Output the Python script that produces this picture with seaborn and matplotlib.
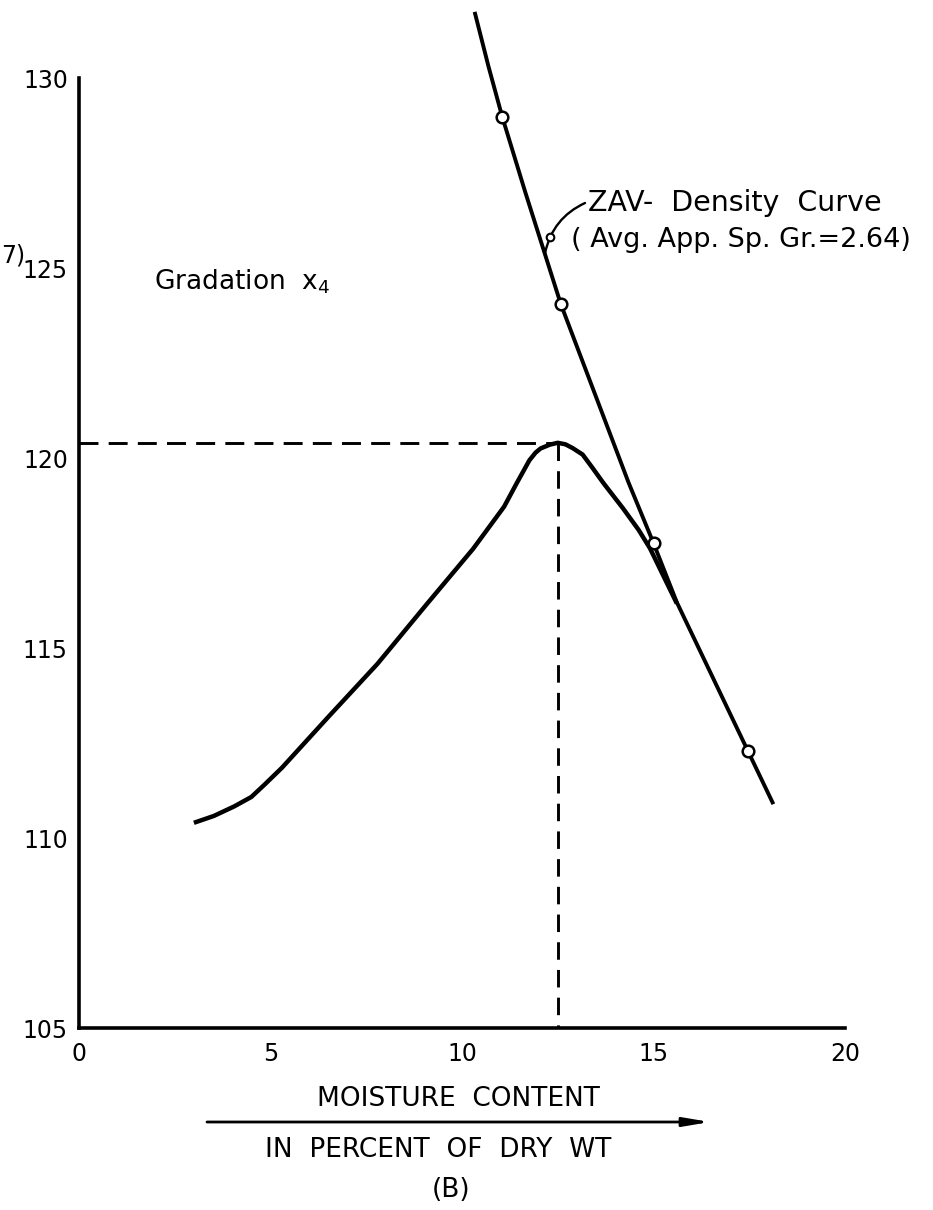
import matplotlib
matplotlib.use("Agg")
import matplotlib.pyplot as plt
from matplotlib.lines import Line2D
import seaborn as sns
import pandas as pd

# Compaction curve, gradation x4: moisture (% of dry wt) vs dry density (pcf)
moisture = [3.00, 3.52, 4.05, 4.50, 4.85, 5.30, 6.54, 7.79, 9.06, 10.29,
            11.10, 11.43, 11.76, 11.92, 12.05, 12.29, 12.50, 12.70, 12.89,
            13.15, 13.40, 13.70, 14.20, 14.61, 14.91, 15.61]
dry_density = [110.40, 110.58, 110.83, 111.08, 111.41, 111.85, 113.22, 114.58,
               116.13, 117.61, 118.72, 119.34, 119.94, 120.14, 120.25, 120.35,
               120.40, 120.36, 120.26, 120.09, 119.75, 119.33, 118.68, 118.11,
               117.62, 116.17]

# Zero-air-voids density curve
zav_moisture = [10.33, 10.69, 11.05, 11.66, 12.58, 14.35, 15.00, 15.61, 17.46, 18.13]
zav_density = [131.74, 130.31, 128.98, 126.97, 124.05, 119.35, 117.76, 116.20,
               112.30, 110.89]

# Computed points on the ZAV curve
zav_pt_moisture = [11.05, 12.58, 15.00, 17.46]
zav_pt_density = [128.98, 124.05, 117.76, 112.30]

# Optimum moisture content and maximum dry density
opt_moisture = 12.5
max_density = 120.4

x_ticks = [0, 5, 10, 15, 20]
y_ticks = [105, 110, 115, 120, 125, 130]

W, H = 933, 1210

sns.set_theme(style="white")
plt.rcParams["font.family"] = ["DejaVu Sans"]
plt.rcParams["mathtext.default"] = "regular"
plt.rcParams["text.color"] = "black"
plt.rcParams["xtick.color"] = "black"
plt.rcParams["ytick.color"] = "black"

fig = plt.figure(figsize=(W / 100, H / 100), dpi=100)
fig.patch.set_facecolor("white")
ax = fig.add_axes([79 / W, 182 / H, 766 / W, 950 / H])
ax.set_facecolor("white")

comp = pd.DataFrame({"moisture": moisture, "density": dry_density})
zav = pd.DataFrame({"moisture": zav_moisture, "density": zav_density})
pts = pd.DataFrame({"moisture": zav_pt_moisture, "density": zav_pt_density})

sns.lineplot(data=comp, x="moisture", y="density", ax=ax, color="black",
             lw=3.2, estimator=None, clip_on=False, solid_capstyle="butt",
             solid_joinstyle="round")
sns.lineplot(data=zav, x="moisture", y="density", ax=ax, color="black",
             lw=2.8, estimator=None, clip_on=False, solid_capstyle="butt",
             solid_joinstyle="round")
sns.scatterplot(data=pts, x="moisture", y="density", ax=ax, s=70,
                facecolor="white", edgecolor="black", linewidth=1.8,
                zorder=5, clip_on=False)

# Optimum moisture / maximum dry density guide lines
ax.plot([0, opt_moisture], [max_density, max_density], color="black",
        lw=2.1, dashes=(6.5, 3.5))
ax.plot([opt_moisture, opt_moisture], [max_density, 105], color="black",
        lw=2.1, dashes=(6.0, 3.5))

ax.set_xlim(0, 20)
ax.set_ylim(105, 130)
ax.set_xticks(x_ticks)
ax.set_yticks(y_ticks)
ax.set_xlabel("")
ax.set_ylabel("")
for side in ("top", "right"):
    ax.spines[side].set_visible(False)
for side in ("left", "bottom"):
    ax.spines[side].set_linewidth(2.6)
    ax.spines[side].set_color("black")
ax.tick_params(axis="both", direction="in", length=15, width=1.9,
               colors="black", labelsize=17)
ax.tick_params(axis="y", pad=8)
ax.tick_params(axis="x", pad=10)


def fy(y):
    return 1 - y / H


fig.text(154 / W, fy(282), "Gradation  $x_4$", fontsize=19,
         ha="left", va="center")
fig.text(1 / W, fy(255), "7)", fontsize=17, ha="left", va="center")

# ZAV curve label with its leader
fig.text(588 / W, fy(203), "ZAV-  Density  Curve", fontsize=20.5,
         ha="left", va="center")
fig.text(571 / W, fy(240), "( Avg. App. Sp. Gr.=2.64)", fontsize=19.5,
         ha="left", va="center")
ax.annotate("", xy=(12.17, 125.4), xytext=(585, H - 203),
            textcoords="figure pixels",
            arrowprops=dict(arrowstyle="-", lw=1.7, color="black",
                            shrinkA=0, shrinkB=0,
                            connectionstyle="arc3,rad=0.25"))
fig.add_artist(Line2D([550.3 / W], [973.2 / H], transform=fig.transFigure,
                      marker="o", ms=5.5, mfc="white", mec="black", mew=1.5,
                      ls="none"))

fig.text(458 / W, fy(1099), "MOISTURE  CONTENT", fontsize=19,
         ha="center", va="center")
ax.annotate("", xy=(710, H - 1122), xytext=(207, H - 1122),
            xycoords="figure pixels", textcoords="figure pixels",
            arrowprops=dict(arrowstyle="-|>,head_length=1.3,head_width=0.22",
                            lw=2.0, color="black", shrinkA=0, shrinkB=0))
fig.text(438 / W, fy(1150), "IN  PERCENT  OF  DRY  WT", fontsize=19,
         ha="center", va="center")
fig.text(451 / W, fy(1190), "(B)", fontsize=19, ha="center", va="center")

fig.savefig("out.png", dpi=100, facecolor="white")
